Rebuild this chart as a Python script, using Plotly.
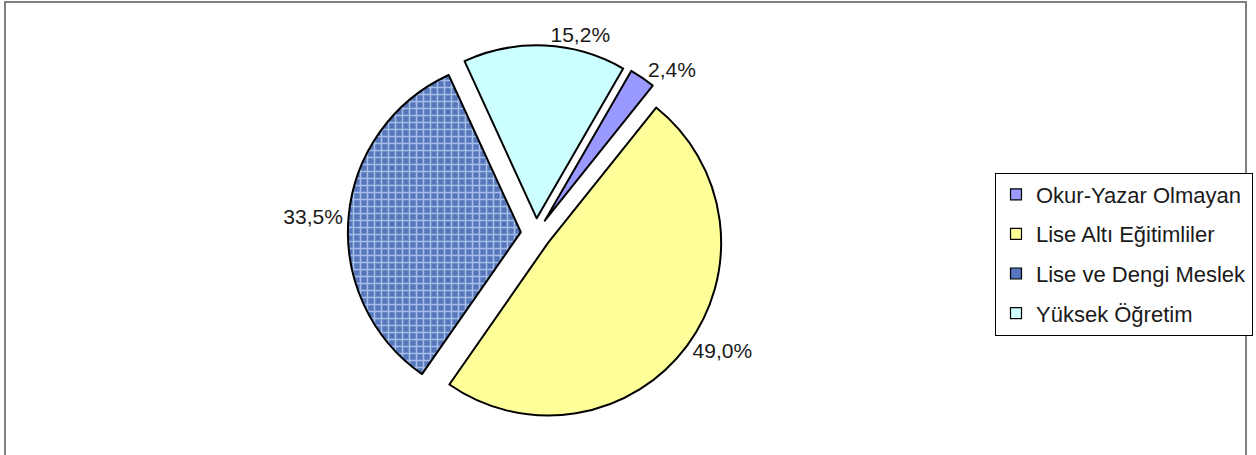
import plotly.graph_objects as go

labels = ["Okur-Yazar Olmayan", "Lise Altı Eğitimliler", "Lise ve Dengi Meslek", "Yüksek Öğretim"]
values = [2.4, 49.0, 33.5, 15.2]
colors = ["#9999FF", "#FFFF99", "#5677BB", "#CCFFFF"]
patterns = ["", "", "+", ""]
pulls = [0.09, 0.088, 0.088, 0.088]

text = [f"{v:.1f}%".replace(".", ",") for v in values]
FONT = "Liberation Sans, Arial, sans-serif"

W, H = 1256, 455
cx, cy, half = 536, 233.5, 188.5

fig = go.Figure()
fig.add_trace(go.Pie(
    labels=labels,
    values=values,
    text=text,
    textinfo="text",
    textposition="outside",
    sort=False,
    direction="clockwise",
    rotation=30,
    pull=pulls,
    showlegend=False,
    marker=dict(
        colors=colors,
        line=dict(color="#000000", width=2),
        pattern=dict(shape=patterns, fgcolor="#A7BEE9", bgcolor=colors, size=7, solidity=0.4),
    ),
    textfont=dict(family=FONT, size=21, color="#1a1a1a"),
    domain=dict(x=[(cx - half) / W, (cx + half) / W], y=[1 - (cy + half) / H, 1 - (cy - half) / H]),
    hoverinfo="label+percent",
))

# legend entries (one per category)
for i, (lab, col) in enumerate(zip(labels, colors)):
    fig.add_trace(go.Scatter(
        x=[None], y=[None], mode="markers", name=lab,
        legendgroup=f"g{i}",
        marker=dict(symbol="square", size=11, color=col, line=dict(color="#000000", width=1.2)),
    ))

fig.add_shape(type="rect", xref="paper", yref="paper",
              x0=5 / W, x1=1246 / W, y0=-0.2, y1=1 - 2 / H,
              line=dict(color="#808080", width=2), fillcolor="rgba(0,0,0,0)")

fig.update_layout(
    width=W, height=H,
    margin=dict(l=0, r=0, t=0, b=0, autoexpand=False),
    paper_bgcolor="white", plot_bgcolor="white",
    font=dict(family=FONT, size=21, color="#1a1a1a"),
    xaxis=dict(visible=False),
    yaxis=dict(visible=False),
    showlegend=True,
    legend=dict(
        x=995 / W, xanchor="left",
        y=1 - 254 / H, yanchor="middle",
        bordercolor="#000000", borderwidth=1,
        bgcolor="white",
        tracegroupgap=8,
        font=dict(size=22, family=FONT, color="#1a1a1a"),
        traceorder="grouped",
    ),
)

fig.write_html("out.html", config={"displayModeBar": False},
               post_script="document.body.style.margin='0';document.body.style.overflow='hidden';")
